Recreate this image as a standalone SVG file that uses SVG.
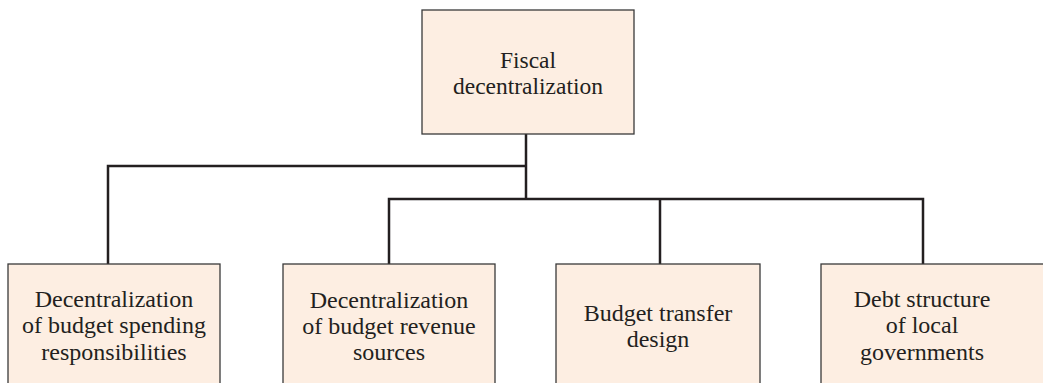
<svg xmlns="http://www.w3.org/2000/svg" width="1043" height="383" viewBox="0 0 1043 383" font-family="'Liberation Serif', serif">
<style>
.box{fill:#fdeee2;stroke:#3a3a3a;stroke-width:1.3}
.lbl{font-size:24px;fill:#231f20;text-anchor:middle}
.top{font-size:23.5px}
.con{fill:none;stroke:#231f20;stroke-width:2.5;stroke-linejoin:miter}
</style>
<rect width="1043" height="383" fill="#ffffff"/>
<g id="connectors">
<path class="con" d="M526 134 V199"/>
<path class="con" d="M526 166 H108 V264"/>
<path class="con" d="M389 264 V199 H923 V264"/>
<path class="con" d="M660 199 V264"/>
</g>
<g id="fiscal">
<rect class="box" x="422" y="10" width="212" height="124"/>
<text class="lbl top" x="528" y="68" font-family="'Liberation Serif', serif">Fiscal</text>
<text class="lbl top" x="528" y="94" font-family="'Liberation Serif', serif">decentralization</text>
</g>
<g id="spending" font-family="'Liberation Serif', serif">
<rect class="box" x="8" y="264" width="212" height="130"/>
<text class="lbl" x="114" y="307">Decentralization</text>
<text class="lbl" x="114" y="333">of budget spending</text>
<text class="lbl" x="114" y="360">responsibilities</text>
</g>
<g id="revenue" font-family="'Liberation Serif', serif">
<rect class="box" x="283" y="264" width="212" height="130"/>
<text class="lbl" x="389" y="308">Decentralization</text>
<text class="lbl" x="389" y="334">of budget revenue</text>
<text class="lbl" x="389" y="360">sources</text>
</g>
<g id="transfer" font-family="'Liberation Serif', serif">
<rect class="box" x="556" y="264" width="204" height="130"/>
<text class="lbl" x="658" y="321">Budget transfer</text>
<text class="lbl" x="658" y="347">design</text>
</g>
<g id="debt" font-family="'Liberation Serif', serif">
<rect class="box" x="821" y="264" width="230" height="130"/>
<text class="lbl" x="922" y="307">Debt structure</text>
<text class="lbl" x="922" y="333">of local</text>
<text class="lbl" x="922" y="360">governments</text>
</g>
</svg>
